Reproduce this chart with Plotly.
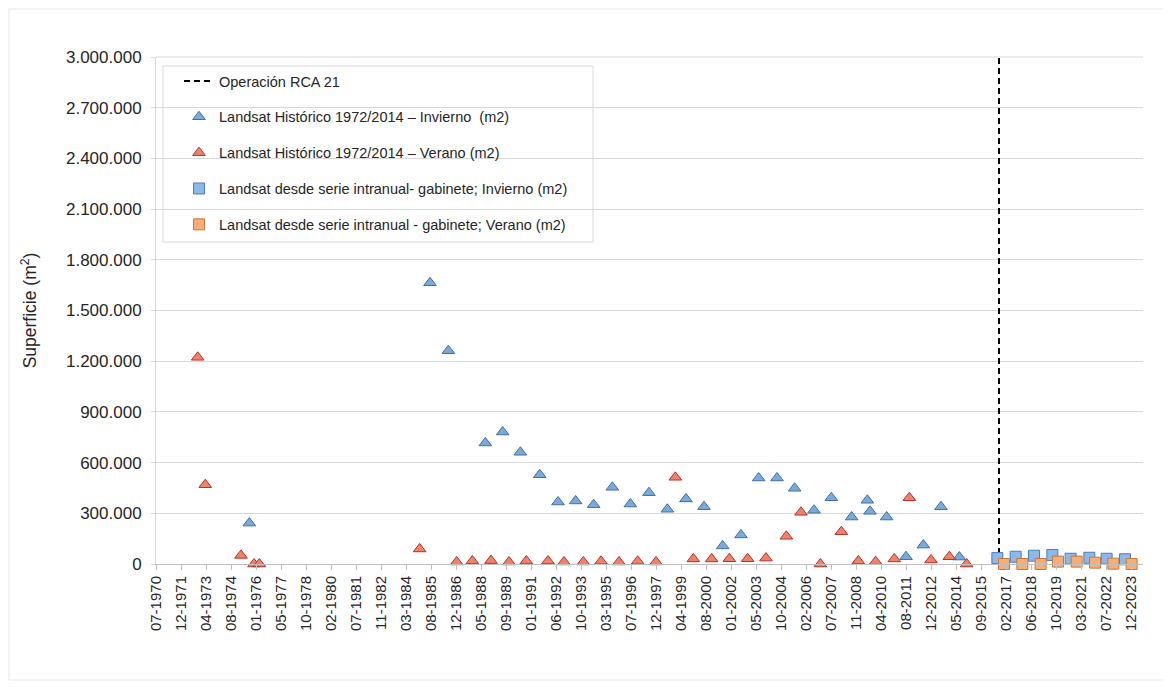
import datetime as dt
import plotly.graph_objects as go

# ---------------- data ----------------
inv_dates = ["1975-08-30", "1985-07-21", "1986-07-23", "1988-08-01", "1989-07-13",
             "1990-07-02", "1991-07-23", "1992-07-24", "1993-07-12", "1994-07-07",
             "1995-07-16", "1996-07-10", "1997-07-18", "1998-07-20", "1999-07-28",
             "2000-07-22", "2001-07-30", "2002-08-01", "2003-07-20", "2004-07-21",
             "2005-07-09", "2006-07-31", "2007-07-13", "2008-08-22", "2009-07-02",
             "2009-08-24", "2010-07-23", "2011-08-14", "2012-07-26", "2013-07-14",
             "2014-07-16"]
inv_values = [242000, 1664000, 1262000, 716000, 781000,
              661000, 528000, 367000, 373000, 351000,
              454000, 355000, 422000, 324000, 385000,
              339000, 107000, 172000, 509000, 509000,
              448000, 318000, 392000, 278000, 377000,
              312000, 278000, 43000, 112000, 339000,
              41000]

ver_dates = ["1972-10-31", "1973-04-01", "1975-03-16", "1975-12-01", "1976-03-17",
             "1984-12-26", "1987-01-05", "1987-11-15", "1988-11-22", "1989-11-17",
             "1990-10-30", "1992-01-06", "1992-11-21", "1993-12-13", "1994-12-01",
             "1995-11-26", "1996-12-03", "1997-12-05", "1998-12-27", "1999-12-22",
             "2000-12-22", "2001-12-11", "2002-12-12", "2003-12-14", "2005-01-24",
             "2005-11-13", "2006-12-05", "2008-01-29", "2009-01-03", "2009-12-15",
             "2010-12-24", "2011-10-20", "2012-12-26", "2013-12-28", "2014-12-09"]
ver_values = [1223000, 469000, 51000, 0, 0,
              89000, 12000, 18000, 20000, 12000,
              18000, 18000, 12000, 12000, 16000,
              12000, 16000, 12000, 513000, 30000,
              30000, 31000, 31000, 35000, 164000,
              306000, 0, 191000, 18000, 14000,
              30000, 392000, 24000, 43000, 0]

gab_inv_dates = ["2016-08-14", "2017-08-15", "2018-08-17", "2019-08-19",
                 "2020-08-19", "2021-08-28", "2022-08-09", "2023-08-11"]
gab_inv_values = [35000, 43000, 49000, 53000, 31000, 37000, 31000, 28000]

gab_ver_dates = ["2016-12-25", "2017-12-27", "2018-12-28", "2019-12-10",
                 "2020-12-17", "2021-12-19", "2022-12-21", "2023-12-22"]
gab_ver_values = [0, 0, 0, 14000, 14000, 8000, 2000, 0]

rca_date = "2016-09-16"
rca_y = [0, 3000000]

tick_labels = ["07-1970", "12-1971", "04-1973", "08-1974", "01-1976", "05-1977",
               "10-1978", "02-1980", "07-1981", "11-1982", "03-1984", "08-1985",
               "12-1986", "05-1988", "09-1989", "01-1991", "06-1992", "10-1993",
               "03-1995", "07-1996", "12-1997", "04-1999", "08-2000", "01-2002",
               "05-2003", "10-2004", "02-2006", "07-2007", "11-2008", "04-2010",
               "08-2011", "12-2012", "05-2014", "09-2015", "02-2017", "06-2018",
               "10-2019", "03-2021", "07-2022", "12-2023"]

# axis settings (Excel-like date axis, major unit 500 days)
axis_start = dt.date(1970, 7, 20)
axis_end = "2024-08-05"
tick_vals = [(axis_start + dt.timedelta(days=500 * i)).isoformat() for i in range(len(tick_labels))]

FONT = "Liberation Sans, Arial, sans-serif"

fig = go.Figure()

fig.add_trace(go.Scatter(
    x=[rca_date, rca_date], y=rca_y, mode="lines",
    name="Operación RCA 21", legendgroup="a",
    line=dict(color="black", width=2, dash="6px,4px"),
    hoverinfo="skip"))

fig.add_trace(go.Scatter(
    x=inv_dates, y=inv_values, mode="markers", legendgroup="b", cliponaxis=False,
    name="Landsat Histórico 1972/2014 – Invierno  (m2)",
    marker=dict(symbol="triangle-up", size=11, color="#7AA9DD",
                line=dict(color="#41719C", width=1))))

fig.add_trace(go.Scatter(
    x=ver_dates, y=ver_values, mode="markers", legendgroup="c", cliponaxis=False,
    name="Landsat Histórico 1972/2014 – Verano (m2)",
    marker=dict(symbol="triangle-up", size=11, color="#F0826A",
                line=dict(color="#B8312A", width=1))))

fig.add_trace(go.Scatter(
    x=gab_inv_dates, y=gab_inv_values, mode="markers", legendgroup="d", cliponaxis=False,
    name="Landsat desde serie intranual- gabinete; Invierno (m2)",
    marker=dict(symbol="square", size=11, color="#8DB8E8",
                line=dict(color="#4A7EBB", width=1))))

fig.add_trace(go.Scatter(
    x=gab_ver_dates, y=gab_ver_values, mode="markers", legendgroup="e", cliponaxis=False,
    name="Landsat desde serie intranual - gabinete; Verano (m2)",
    marker=dict(symbol="square", size=11, color="#F6AE78",
                line=dict(color="#C8783A", width=1))))

# page body has an 8px offset; target plot area in window px:
# left 156, right 1143, top 57, bottom 564
OFF = 8
FW, FH = 1171 - OFF, 687 - OFF
L, R, T, B = 156 - OFF, 1143 - OFF, 57 - OFF, 564 - OFF
W, H = R - L, B - T

def px_x(p):
    return (p - OFF - L) / W

def px_y(p):
    return (B - (p - OFF)) / H

fig.update_layout(
    width=FW, height=FH,
    margin=dict(l=L, r=FW - R, t=T, b=FH - B, autoexpand=False),
    paper_bgcolor="white", plot_bgcolor="white",
    separators=",.",
    font=dict(family=FONT, size=14, color="#333333"),
    showlegend=True,
    legend=dict(
        x=px_x(179), y=px_y(65), xanchor="left", yanchor="top",
        bgcolor="rgba(255,255,255,0)", borderwidth=0,
        font=dict(family=FONT, size=14.5, color="#262626"),
        tracegroupgap=14, traceorder="grouped",
    ),
    xaxis=dict(
        type="date", range=[axis_start.isoformat(), axis_end],
        tickmode="array", tickvals=tick_vals, ticktext=tick_labels,
        tickangle=-90, tickfont=dict(family=FONT, size=15, color="#262626"),
        ticks="outside", ticklen=5, tickcolor="#bfbfbf",
        showline=True, linecolor="#bfbfbf", linewidth=1,
        showgrid=False, zeroline=False, automargin=False,
    ),
    yaxis=dict(
        range=[0, 3000000], tickmode="linear", tick0=0, dtick=300000,
        tickformat=",d", tickfont=dict(family=FONT, size=17, color="#262626"),
        ticks="outside", ticklen=4, tickcolor="#d9d9d9", ticklabelstandoff=6,
        showline=True, linecolor="#d9d9d9",
        showgrid=True, gridcolor="#d9d9d9", gridwidth=1, zeroline=False,
        automargin=False,
        title=dict(text="Superficie (m<sup>2</sup>)",
                   font=dict(family=FONT, size=17.5, color="#262626"), standoff=24),
    ),
    shapes=[
        # legend frame
        dict(type="rect", xref="paper", yref="paper",
             x0=px_x(163), x1=px_x(593), y0=px_y(242), y1=px_y(66),
             line=dict(color="#d9d9d9", width=1), fillcolor="rgba(0,0,0,0)", layer="above"),
        # plot top border
        dict(type="line", xref="paper", yref="paper", x0=0, x1=1, y0=1, y1=1,
             line=dict(color="#d9d9d9", width=1)),
        # chart area frame
        dict(type="rect", xref="paper", yref="paper",
             x0=px_x(9), x1=px_x(1164), y0=px_y(680), y1=px_y(9),
             line=dict(color="#e6e6e6", width=1), fillcolor="rgba(0,0,0,0)"),
    ],
)

fig.write_html("out.html")
